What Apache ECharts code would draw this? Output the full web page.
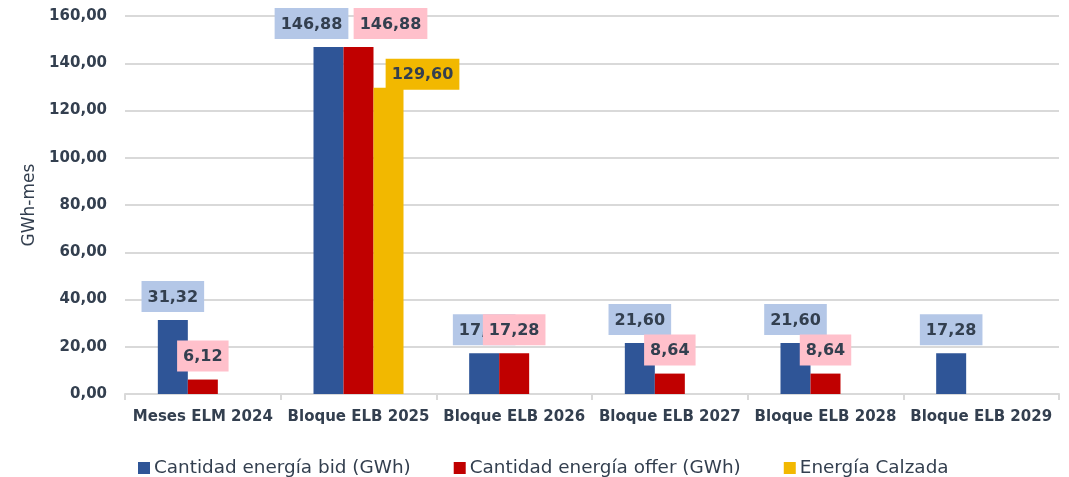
<!DOCTYPE html>
<html>
<head>
<meta charset="utf-8">
<script src="https://cdn.jsdelivr.net/npm/echarts@6/dist/echarts.min.js"></script>
<style>
html,body{margin:0;padding:0;background:#fff;}
#chart{width:1069px;height:477px;}
</style>
</head>
<body>
<div id="chart"></div>
<script>
const categories = ['Meses ELM 2024','Bloque ELB 2025','Bloque ELB 2026','Bloque ELB 2027','Bloque ELB 2028','Bloque ELB 2029'];
const bidValues = [31.32, 146.88, 17.28, 21.60, 21.60, 17.28];
const offerValues = [6.12, 146.88, 17.28, 8.64, 8.64, null];
const calzadaValues = [null, 129.60, null, null, null, null];
const seriesNames = ['Cantidad energía bid (GWh)','Cantidad energía offer (GWh)','Energía Calzada'];
const yAxisName = 'GWh-mes';

const FONT = 'DejaVu Sans';
const TXT = '#333F4F';
function fmt(v){ return Number(v).toFixed(2).replace('.', ','); }

function labelCfg(bg){
  return {
    show: true, position: 'top', distance: 8,
    formatter: p => fmt(p.value),
    fontFamily: FONT, fontWeight: 'bold', fontSize: 16, color: TXT,
    backgroundColor: bg, padding: [8, 6, 6, 6], lineHeight: 17
  };
}
function withOffsets(values, offsets){
  return values.map((v, i) => {
    if (v === null) return '-';
    if (offsets[i]) return { value: v, label: { offset: offsets[i] } };
    return v;
  });
}

const chart = echarts.init(document.getElementById('chart'), null, {renderer: 'canvas'});
chart.setOption({
  animation: false,
  grid: { left: 125, right: 10, top: 16, bottom: 83 },
  legend: {
    top: 454, left: 133,
    itemWidth: 12, itemHeight: 12, itemGap: 43,
    icon: 'rect',
    textStyle: { fontFamily: FONT, fontSize: 18.4, fontWeight: 'normal', color: TXT, padding: [0, 0, 0, -1] },
    data: seriesNames
  },
  xAxis: {
    type: 'category', data: categories,
    axisLine: { lineStyle: { color: '#D9D9D9', width: 2 } },
    axisTick: { show: true, length: 6, lineStyle: { color: '#D9D9D9', width: 2 } },
    axisLabel: { fontFamily: FONT, fontWeight: 'bold', fontSize: 15, color: TXT, margin: 16, interval: 0 }
  },
  yAxis: {
    type: 'value', min: 0, max: 160, interval: 20,
    name: yAxisName, nameLocation: 'middle', nameGap: 85, nameRotate: 90,
    nameTextStyle: { fontFamily: FONT, fontWeight: 'normal', fontSize: 17, color: TXT },
    axisLabel: { formatter: v => fmt(v), fontFamily: FONT, fontWeight: 'bold', fontSize: 15, color: TXT, margin: 18 },
    splitLine: { lineStyle: { color: '#D9D9D9', width: 2 } },
    axisLine: { show: false }, axisTick: { show: false }
  },
  series: [
    { name: seriesNames[0], type: 'bar', barWidth: 30, barGap: '0%',
      itemStyle: { color: '#2F5597' }, label: labelCfg('#B4C7E7'),
      data: withOffsets(bidValues, {1: [-17, 0]}) },
    { name: seriesNames[1], type: 'bar', barWidth: 30, barGap: '0%',
      itemStyle: { color: '#C00000' }, label: labelCfg('#FFC0CB'),
      data: withOffsets(offerValues, {1: [32, 0]}) },
    { name: seriesNames[2], type: 'bar', barWidth: 30, barGap: '0%',
      itemStyle: { color: '#F2B800' }, label: labelCfg('#F2B800'),
      data: withOffsets(calzadaValues, {1: [34, 10]}) }
  ]
});
</script>
</body>
</html>
